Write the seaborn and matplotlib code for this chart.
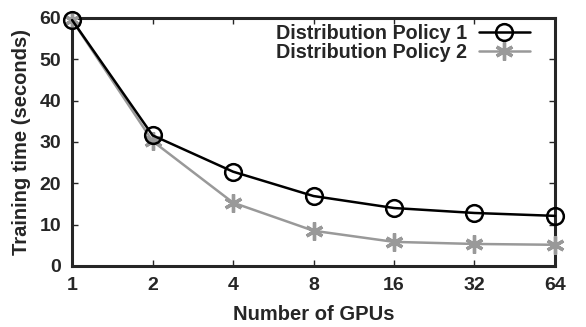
import matplotlib
matplotlib.use("Agg")
import matplotlib.pyplot as plt
import seaborn as sns
import pandas as pd

gpus = ["1", "2", "4", "8", "16", "32", "64"]
policy1 = [59.5, 31.6, 22.8, 16.9, 14.0, 12.8, 12.1]
policy2 = [59.5, 30.2, 15.3, 8.5, 5.8, 5.3, 5.1]
labels = ["Distribution Policy 1", "Distribution Policy 2"]

sns.set_style("ticks")
plt.rcParams["font.family"] = ["Liberation Sans", "DejaVu Sans"]
plt.rcParams["font.weight"] = "bold"

df = pd.DataFrame({"x": list(range(len(gpus))) * 2,
                   "y": policy1 + policy2,
                   "s": [labels[0]] * len(gpus) + [labels[1]] * len(gpus)})

fig, ax = plt.subplots(figsize=(5.86, 3.27), dpi=100)
sns.lineplot(data=df[df.s == labels[0]], x="x", y="y", ax=ax, color="black",
             marker="o", markersize=12, markerfacecolor="none", markeredgecolor="black",
             markeredgewidth=1.8, linewidth=1.8, label=labels[0], clip_on=False, zorder=5)
sns.lineplot(data=df[df.s == labels[1]], x="x", y="y", ax=ax, color="#999999",
             marker=(6, 2, 0), markersize=13, markeredgecolor="#999999",
             markeredgewidth=2.4, linewidth=1.8, label=labels[1], clip_on=False, zorder=4)

ax.set_xlim(0, len(gpus) - 1)
ax.set_ylim(0, 60)
ax.set_xticks(range(len(gpus)))
ax.set_xticklabels(gpus)
ax.set_yticks(range(0, 61, 10))
ax.tick_params(direction="in", length=4, width=1, labelsize=14, top=True, right=True, pad=8)
for lab in ax.get_xticklabels() + ax.get_yticklabels():
    lab.set_fontweight("bold")
for sp in ax.spines.values():
    sp.set_linewidth(2.2)
    sp.set_visible(True)
ax.set_xlabel("Number of GPUs", fontsize=14.5, fontweight="bold", labelpad=8)
ax.set_ylabel("Training time (seconds)", fontsize=14.5, fontweight="bold", labelpad=6)
leg = ax.legend(loc="upper right", frameon=False, markerfirst=False, fontsize=14.2,
                handlelength=2.6, borderaxespad=0.0, borderpad=0.0, labelspacing=0.0,
                handletextpad=0.6, bbox_to_anchor=(0.948, 0.975))
for t in leg.get_texts():
    t.set_fontweight("bold")
fig.subplots_adjust(left=0.123, right=0.947, top=0.945, bottom=0.187)
fig.savefig("out.png", dpi=100)
